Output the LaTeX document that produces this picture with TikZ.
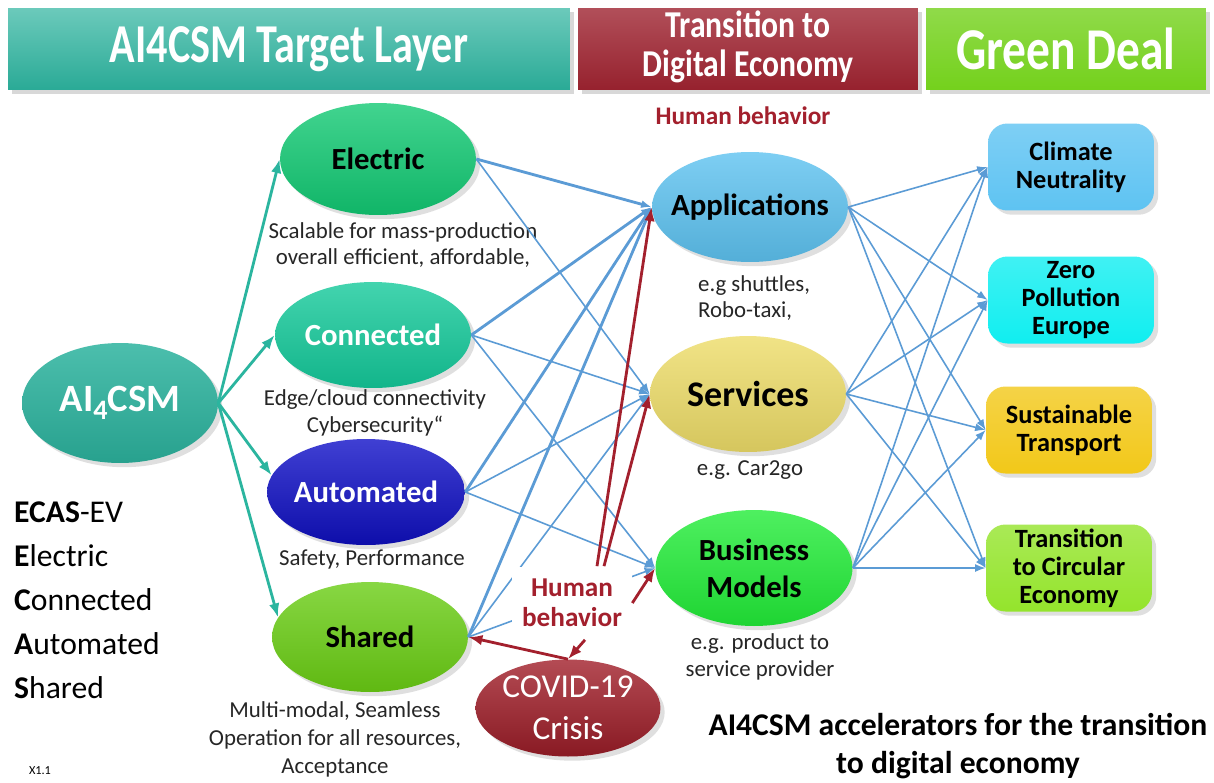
\documentclass[tikz,border=0pt]{standalone}
\usepackage{fontspec}
\setmainfont{Carlito}
\usepackage{graphicx}
\usepackage{tikz}
\usetikzlibrary{arrows.meta,shapes.geometric,shadows}

\definecolor{aiTeal}{HTML}{2CB39E}
\definecolor{elecGreen}{HTML}{12C973}
\definecolor{connTeal}{HTML}{14C99A}
\definecolor{autoBlue}{HTML}{1010C8}
\definecolor{shareGreen}{HTML}{6ACD14}
\definecolor{appBlue}{HTML}{5DC2F0}
\definecolor{servYellow}{HTML}{EDDC68}
\definecolor{busGreen}{HTML}{22EC38}
\definecolor{covidRed}{HTML}{A11E29}
\definecolor{climBlue}{HTML}{5EC3F2}
\definecolor{zeroCyan}{HTML}{10EEF0}
\definecolor{sustGold}{HTML}{F2C819}
\definecolor{circGreen}{HTML}{94E42C}
\definecolor{lineBlue}{HTML}{5B9BD5}
\definecolor{arrTeal}{HTML}{2BB59F}
\definecolor{hbRed}{HTML}{A3202D}
\definecolor{hdrRed}{HTML}{9E2330}
\definecolor{hdrGreen}{HTML}{74D11C}

\begin{document}
\begin{tikzpicture}[x=0.02cm, y=-0.02cm]
      \tikzstyle{header}=[rectangle, inner sep=0pt, minimum height=1.64cm, text=white,
                          align=center, drop shadow={opacity=0.3}]
      \tikzstyle{bubble}=[ellipse, inner sep=0pt, drop shadow={opacity=0.25}]
      \tikzstyle{bubtxt}=[align=center, font=\fontsize{17.5}{21}\selectfont\bfseries]
      \tikzstyle{goal}=[rectangle, rounded corners=11pt, inner sep=0pt, minimum width=3.32cm,
                        minimum height=1.74cm, align=center,
                        font=\fontsize{15}{16}\selectfont\bfseries, drop shadow={opacity=0.25}]
      \tikzstyle{note}=[align=center, font=\fontsize{13}{15.3}\selectfont, text=black!85]
      \tikzstyle{tealarrow}=[draw=arrTeal, line width=1.6pt, -{Latex[length=8pt,width=6pt]}]
      \tikzstyle{bluelink}=[draw=lineBlue, line width=0.9pt, -{Latex[length=6pt,width=4.5pt]}]
      \tikzstyle{mainlink}=[bluelink, line width=1.6pt]
      \tikzstyle{redlink}=[draw=hbRed, line width=1.6pt, -{Latex[length=8pt,width=6pt]}]

      \useasboundingbox[fill=white] (0,0) rectangle (1214,782);

      %headers
      \node[header, minimum width=11.24cm, top color=aiTeal!70!white, bottom color=aiTeal!95!black,
            font=\fontsize{24}{28}\selectfont\bfseries] (layer) at (289,49)
            {\scalebox{1}[1.3]{AI4CSM Target Layer}};
      \node[header, minimum width=6.8cm, top color=hdrRed!80!white, bottom color=hdrRed!95!black,
            font=\fontsize{18}{18.5}\selectfont\bfseries] (digital) at (748,49)
            {\scalebox{1}[1.2]{\begin{tabular}{@{}c@{}}Transition to\\Digital Economy\end{tabular}}};
      \node[header, minimum width=5.6cm, top color=hdrGreen!80!white, bottom color=hdrGreen,
            font=\fontsize{27}{30}\selectfont\bfseries] (deal) at (1066,49)
            {\scalebox{1}[1.25]{Green Deal}};

      \node[text=hbRed, font=\fontsize{14.4}{17}\selectfont\bfseries] (hbtop) at (743,116) {Human behavior};

      %target layer
      \node[bubble, minimum width=3.92cm, minimum height=2.4cm,
            top color=aiTeal!85!white, middle color=aiTeal, bottom color=aiTeal!90!black,
            label={[text=white, font=\fontsize{22}{26}\selectfont\bfseries]center:AI\raisebox{-0.45ex}{\fontsize{16}{16}\selectfont 4}CSM}]
            (ai) at (120,403) {};
      \node[bubble, minimum width=3.92cm, minimum height=2.24cm,
            top color=elecGreen!80!white, middle color=elecGreen, bottom color=elecGreen!90!black,
            label={[bubtxt]center:Electric}] (ele) at (378,159) {};
      \node[bubble, minimum width=3.92cm, minimum height=2.12cm,
            top color=connTeal!80!white, middle color=connTeal, bottom color=connTeal!90!black,
            label={[bubtxt, text=white]center:Connected}] (con) at (373,335) {};
      \node[bubble, minimum width=3.96cm, minimum height=2.12cm,
            top color=autoBlue!80!white, middle color=autoBlue, bottom color=autoBlue!85!black,
            label={[bubtxt, text=white]center:Automated}] (aut) at (366,492) {};
      \node[bubble, minimum width=3.92cm, minimum height=2.2cm,
            top color=shareGreen!80!white, middle color=shareGreen, bottom color=shareGreen!90!black,
            label={[bubtxt]center:Shared}] (sha) at (370,637) {};

      %digital economy
      \node[bubble, minimum width=3.92cm, minimum height=2.2cm,
            top color=appBlue!80!white, middle color=appBlue, bottom color=appBlue!90!black,
            label={[bubtxt]center:Applications}] (app) at (750,207) {};
      \node[bubble, minimum width=3.92cm, minimum height=2.32cm,
            top color=servYellow!80!white, middle color=servYellow, bottom color=servYellow!90!black,
            label={[bubtxt, font=\fontsize{20.5}{24}\selectfont\bfseries]center:Services}] (svc) at (748,394) {};
      \node[bubble, minimum width=3.94cm, minimum height=2.32cm,
            top color=busGreen!80!white, middle color=busGreen, bottom color=busGreen!90!black,
            label={[bubtxt]center:Business\\Models}] (bm) at (754,568) {};

      \node[bubble, minimum width=3.7cm, minimum height=1.94cm,
            top color=covidRed!80!white, middle color=covidRed, bottom color=covidRed!85!black,
            label={[align=center, text=white, font=\fontsize{19}{24}\selectfont]center:COVID-19\\Crisis}]
            (covid) at (568,708) {};

      %green deal
      \node[goal, top color=climBlue!80!white, bottom color=climBlue] (clim) at (1071,167) {Climate\\Neutrality};
      \node[goal, top color=zeroCyan!80!white, bottom color=zeroCyan] (zero) at (1071,300) {Zero\\Pollution\\Europe};
      \node[goal, top color=sustGold!80!white, bottom color=sustGold] (sust) at (1069,430) {Sustainable\\Transport};
      \node[goal, top color=circGreen!80!white, bottom color=circGreen] (circ) at (1069,568) {Transition\\to Circular\\Economy};

      %notes
      \node[note] (elenote) at (403,245) {Scalable for mass-production\\overall efficient, affordable,};
      \node[note] (connote) at (375,413) {Edge/cloud connectivity\\Cybersecurity“};
      \node[note] (autnote) at (372,560) {Safety, Performance};
      \node[note, font=\fontsize{13}{15.9}\selectfont] (shanote) at (335,739)
            {Multi-modal, Seamless\\Operation for all resources,\\Acceptance};
      \node[note, align=left, anchor=west] (appnote) at (692,298) {e.g shuttles,\\Robo-taxi,};
      \node[note] (svcnote) at (750,470) {e.g. Car2go};
      \node[note] (bmnote) at (760,657) {e.g. product to\\service provider};

      \node[anchor=north west, align=left, font=\fontsize{18}{25}\selectfont] (ecas) at (8,496)
            {\textbf{ECAS}-EV\\\textbf{E}lectric\\\textbf{C}onnected\\\textbf{A}utomated\\\textbf{S}hared};
      \node[font=\fontsize{7}{8}\selectfont] (ver) at (40,771) {X1.1};
      \node[align=center, font=\fontsize{18}{21.5}\selectfont\bfseries] (caption) at (958,746)
            {AI4CSM accelerators for the transition\\to digital economy};

      %AI4CSM to target layer
      \draw[tealarrow] (ai.east) -- (ele.west);
      \draw[tealarrow] (ai.east) -- (con.west);
      \draw[tealarrow] (ai.east) -- (aut.170);
      \draw[tealarrow] (ai.east) -- (sha.168);

      %target layer to digital economy
      \draw[mainlink] (ele.east) -- (app.west);
      \draw[bluelink] (ele.east) -- (svc.west);
      \draw[mainlink] (con.east) -- (app.west);
      \draw[bluelink] (con.east) -- (svc.west);
      \draw[bluelink] (con.east) -- (bm.west);
      \draw[mainlink] (aut.east) -- (app.west);
      \draw[bluelink] (aut.east) -- (svc.west);
      \draw[bluelink] (aut.east) -- (bm.west);
      \draw[mainlink] (sha.east) -- (app.west);
      \draw[bluelink] (sha.east) -- (svc.west);
      \draw[bluelink] (sha.east) -- (bm.west);

      %digital economy to green deal
      \draw[bluelink] (app.east) -- (clim.west);
      \draw[bluelink] (app.east) -- (zero.west);
      \draw[bluelink] (app.east) -- (sust.west);
      \draw[bluelink] (app.east) -- (circ.west);
      \draw[bluelink] (svc.east) -- (clim.west);
      \draw[bluelink] (svc.east) -- (zero.west);
      \draw[bluelink] (svc.east) -- (sust.west);
      \draw[bluelink] (svc.east) -- (circ.west);
      \draw[bluelink] (bm.east) -- (clim.west);
      \draw[bluelink] (bm.east) -- (zero.west);
      \draw[bluelink] (bm.east) -- (sust.west);
      \draw[bluelink] (bm.east) -- (circ.west);

      %human behavior
      \node[fill=white, minimum width=2.4cm, minimum height=1.46cm, inner sep=0pt, align=center,
            text=hbRed, font=\fontsize{15.5}{17}\selectfont\bfseries] (hb) at (572,603) {Human\\behavior};
      \draw[redlink] ([xshift=0.5cm]hb.north) -- (app.west);
      \draw[redlink] ([xshift=0.64cm]hb.north) -- (svc.west);
      \draw[redlink] (hb.east) -- (bm.west);
      \draw[redlink] ([xshift=0.26cm]hb.south) -- (covid.north);
      \draw[redlink] (covid.north) -- (sha.east);

   \end{tikzpicture}
\end{document}
